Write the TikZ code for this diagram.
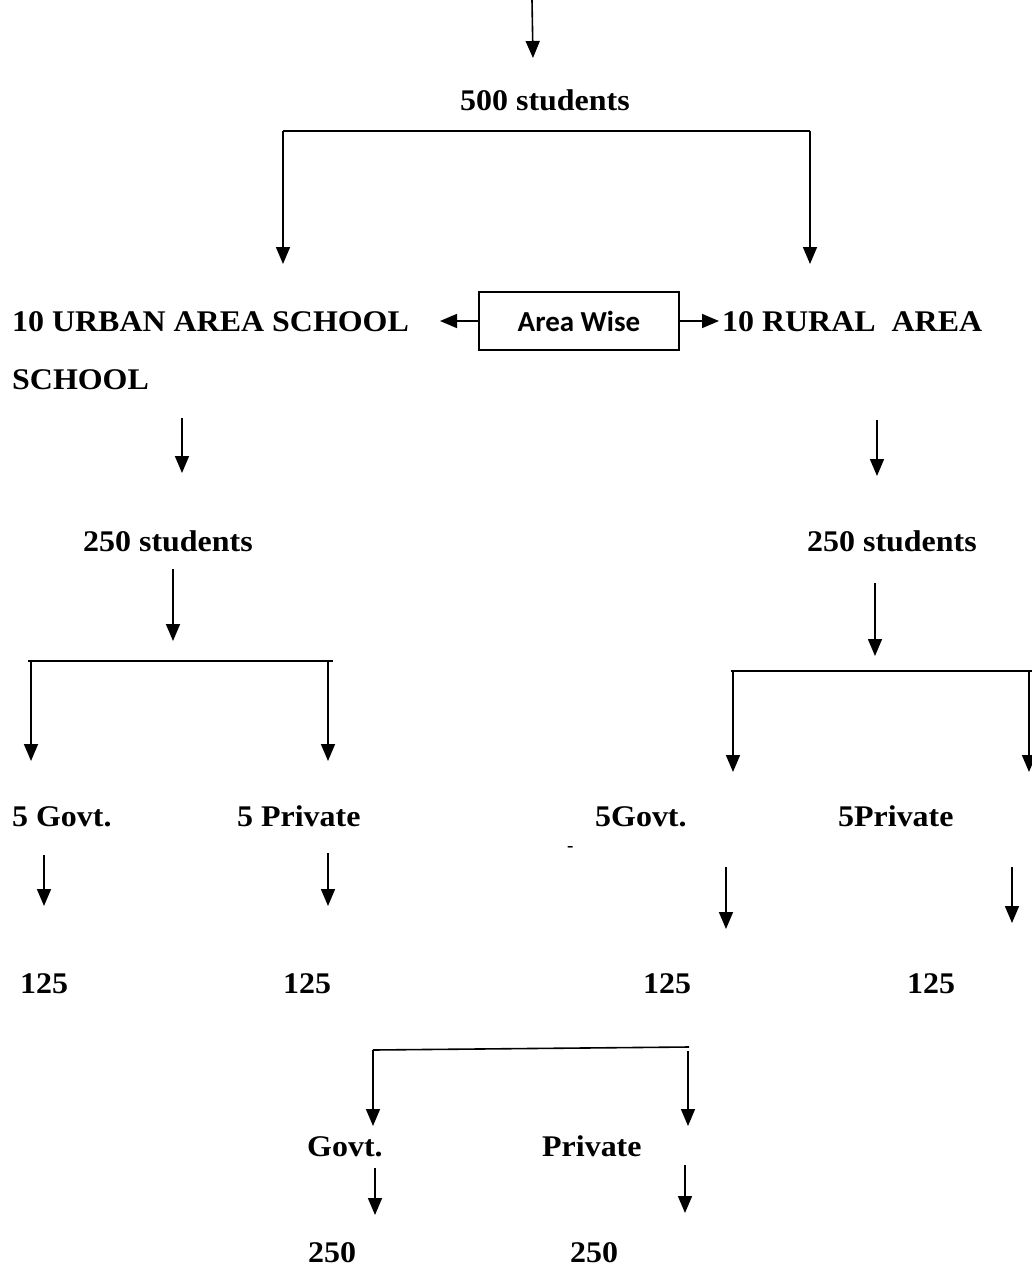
\documentclass[tikz,border=0pt]{standalone}
\usepackage{fontspec}
\setmainfont{Liberation Serif}[FakeStretch=1.065]
\newfontfamily\calibrifont{Carlito}
\usetikzlibrary{arrows.meta}
\begin{document}
\begin{tikzpicture}[x=1pt,y=-1pt,
  lbl/.style={font=\fontsize{30}{36}\selectfont\bfseries, inner sep=0pt, anchor=base west},
  conn/.style={line width=1.6pt},
  arr/.style={conn, -{Triangle[width=14pt,length=17pt]}},
  awbox/.style={draw, line width=1.6pt, minimum width=200pt, minimum height=58pt, inner sep=0pt,
    font=\calibrifont\fontsize{29}{34}\selectfont\bfseries}]
\useasboundingbox (0,0) rectangle (1032,1275);

% ---------- texts ----------
\node[lbl] (s500) at (460,110) {500 students};
\node[lbl] (urban) at (12,331) {10 URBAN AREA SCHOOL};
\node[lbl] (urban2) at (12,389) {SCHOOL};
\node[awbox] (aw) at (579,321) {Area Wise};
\node[lbl] (rural) at (722,331) {10 RURAL\ \ AREA};
\node[lbl] (u250) at (83,551) {250 students};
\node[lbl] (r250) at (807,551) {250 students};
\node[lbl] (ug) at (12,826) {5 Govt.};
\node[lbl] (up) at (237,826) {5 Private};
\node[lbl] (rg) at (595,826) {5Govt.};
\node[lbl] (rp) at (838,826) {5Private};
\node[font=\fontsize{18}{20}\selectfont\bfseries, inner sep=0pt, anchor=base west] (dash) at (567,851) {-};
\node[lbl] (n1) at (20,993) {125};
\node[lbl] (n2) at (283,993) {125};
\node[lbl] (n3) at (643,993) {125};
\node[lbl] (n4) at (907,993) {125};
\node[lbl] (bg) at (307,1156) {Govt.};
\node[lbl] (bp) at (542,1156) {Private};
\node[lbl] (b1) at (308,1262) {250};
\node[lbl] (b2) at (570,1262) {250};

% ---------- coordinates ----------
\coordinate (t0) at (532,0);     \coordinate (t1) at (533,58);
\coordinate (k1) at (283,131);   \coordinate (k2) at (810,131);
\coordinate (k1e) at (283,264);  \coordinate (k2e) at (810,264);
\coordinate (aL) at (440,321);   \coordinate (aR) at (719,321);
\coordinate (ua0) at (182,418);  \coordinate (ua1) at (182,473);
\coordinate (ra0) at (877,420);  \coordinate (ra1) at (877,476);
\coordinate (ub0) at (173,569);  \coordinate (ub1) at (173,641);
\coordinate (rb0) at (875,583);  \coordinate (rb1) at (875,656);
\coordinate (lh1) at (28,661);   \coordinate (lh2) at (333,661);
\coordinate (lv1) at (31,661);   \coordinate (lv1e) at (31,761);
\coordinate (lv2) at (328,661);  \coordinate (lv2e) at (328,761);
\coordinate (rh1) at (731,671);  \coordinate (rh2) at (1032,671);
\coordinate (rv1) at (733,671);  \coordinate (rv1e) at (733,772);
\coordinate (rv2) at (1029,671); \coordinate (rv2e) at (1029,772);
\coordinate (c1) at (44,855);    \coordinate (c1e) at (44,906);
\coordinate (c2) at (328,853);   \coordinate (c2e) at (328,906);
\coordinate (c3) at (726,867);   \coordinate (c3e) at (726,929);
\coordinate (c4) at (1012,867);  \coordinate (c4e) at (1012,923);
\coordinate (bh1) at (373,1050); \coordinate (bh2) at (689,1047);
\coordinate (bv1e) at (373,1126);
\coordinate (bv2) at (688,1051); \coordinate (bv2e) at (688,1126);
\coordinate (d1) at (375,1168);  \coordinate (d1e) at (375,1215);
\coordinate (d2) at (685,1165);  \coordinate (d2e) at (685,1213);

% ---------- connectors ----------
\draw[arr] (t0) -- (t1);
\draw[conn] (k1) -- (k2);
\draw[arr] (k1) -- (k1e);
\draw[arr] (k2) -- (k2e);
\draw[arr] (aw.west) -- (aL);
\draw[arr] (aw.east) -- (aR);
\draw[arr] (ua0) -- (ua1);
\draw[arr] (ra0) -- (ra1);
\draw[arr] (ub0) -- (ub1);
\draw[arr] (rb0) -- (rb1);
\draw[conn] (lh1) -- (lh2);
\draw[arr] (lv1) -- (lv1e);
\draw[arr] (lv2) -- (lv2e);
\draw[conn] (rh1) -- (rh2);
\draw[arr] (rv1) -- (rv1e);
\draw[arr] (rv2) -- (rv2e);
\draw[arr] (c1) -- (c1e);
\draw[arr] (c2) -- (c2e);
\draw[arr] (c3) -- (c3e);
\draw[arr] (c4) -- (c4e);
\draw[conn] (bh1) -- (bh2);
\draw[arr] (bh1) -- (bv1e);
\draw[arr] (bv2) -- (bv2e);
\draw[arr] (d1) -- (d1e);
\draw[arr] (d2) -- (d2e);
\end{tikzpicture}
\end{document}
